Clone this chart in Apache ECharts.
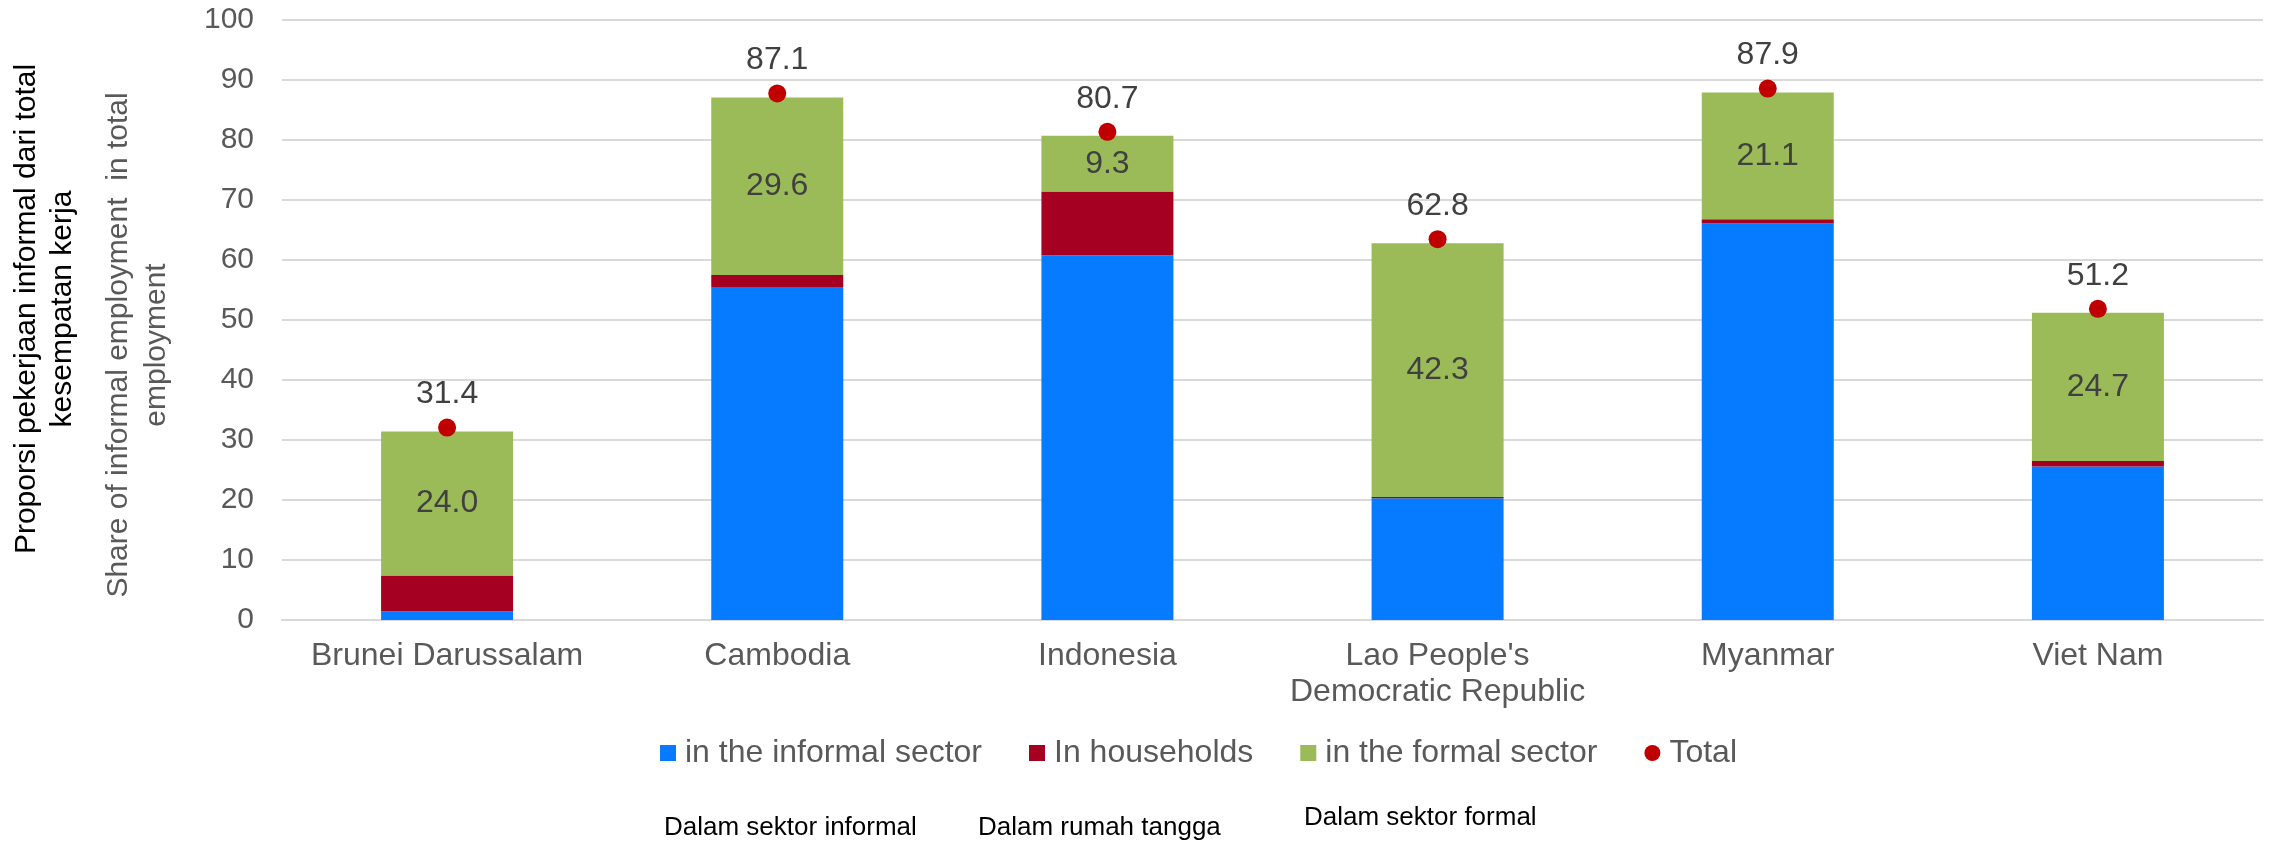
<!DOCTYPE html>
<html>
<head>
<meta charset="utf-8">
<script src="https://cdn.jsdelivr.net/npm/echarts@6/dist/echarts.min.js"></script>
<style>
html,body{margin:0;padding:0;background:#fff;}
#c{width:2280px;height:843px;}
</style>
</head>
<body>
<div id="c"></div>
<script>
var categories = ['Brunei Darussalam', 'Cambodia', 'Indonesia', "Lao People's\nDemocratic Republic", 'Myanmar', 'Viet Nam'];
var informalSector = [1.4, 55.5, 60.8, 20.3, 66.1, 25.6];
var households = [6.0, 2.0, 10.6, 0.2, 0.7, 0.9];
var formalSector = [24.0, 29.6, 9.3, 42.3, 21.1, 24.7];
var totals = [31.4, 87.1, 80.7, 62.8, 87.9, 51.2];
var seriesNames = ['in the informal sector', 'In households', 'in the formal sector', 'Total'];
var bottomNotes = ['Dalam sektor informal', 'Dalam rumah tangga', 'Dalam sektor formal'];
var titleId = 'Proporsi pekerjaan informal dari total\nkesempatan kerja';
var titleEn = 'Share of informal employment  in total\nemployment';

var FONT = '"Liberation Sans", Arial, sans-serif';
var chart = echarts.init(document.getElementById('c'), null, {renderer: 'canvas'});
chart.setOption({
  animation: false,
  backgroundColor: '#ffffff',
  textStyle: {fontFamily: FONT},
  grid: {left: 282, right: 17, top: 20, bottom: 223},
  legend: {
    left: 660, top: 737, padding: 0,
    itemWidth: 16, itemHeight: 16, itemGap: 47,
    textStyle: {fontSize: 32, color: '#595959', fontFamily: FONT, padding: [0, 0, 0, 4]},
    data: [
      {name: seriesNames[0], icon: 'rect'},
      {name: seriesNames[1], icon: 'rect'},
      {name: seriesNames[2], icon: 'rect'},
      {name: seriesNames[3], icon: 'circle'}
    ]
  },
  xAxis: {
    type: 'category', data: categories,
    axisLine: {lineStyle: {color: '#d9d9d9', width: 2}},
    axisTick: {show: false},
    axisLabel: {fontSize: 32, color: '#595959', margin: 18, lineHeight: 36, fontFamily: FONT, interval: 0}
  },
  yAxis: {
    type: 'value', min: 0, max: 100, interval: 10,
    axisLine: {show: false}, axisTick: {show: false},
    splitLine: {lineStyle: {color: '#d9d9d9', width: 2}},
    axisLabel: {fontSize: 30, color: '#595959', margin: 28, fontFamily: FONT}
  },
  series: [
    {name: seriesNames[0], type: 'bar', stack: 's', barWidth: 132, data: informalSector, itemStyle: {color: '#067bff'}},
    {name: seriesNames[1], type: 'bar', stack: 's', barWidth: 132, data: households, itemStyle: {color: '#a50021'}},
    {name: seriesNames[2], type: 'bar', stack: 's', barWidth: 132, data: formalSector, itemStyle: {color: '#9bbb59'},
      label: {show: true, position: 'inside', fontSize: 32, color: '#404040', fontFamily: FONT,
        formatter: function (p) { return p.value.toFixed(1); }}},
    {name: seriesNames[3], type: 'scatter', data: totals, symbol: 'circle', symbolSize: 18, symbolOffset: [0, -4],
      itemStyle: {color: '#c00000', opacity: 1}, z: 5,
      label: {show: true, position: 'top', distance: 8, fontSize: 32, color: '#404040', fontFamily: FONT,
        formatter: function (p) { return p.value.toFixed(1); }}}
  ],
  graphic: [
    {type: 'text', x: 45, y: 309, rotation: Math.PI / 2,
      style: {text: titleId, fontSize: 30, lineHeight: 36, fill: '#000000', align: 'center', verticalAlign: 'middle', fontFamily: FONT}},
    {type: 'text', x: 138, y: 345, rotation: Math.PI / 2,
      style: {text: titleEn, fontSize: 30, lineHeight: 38, fill: '#595959', align: 'center', verticalAlign: 'middle', fontFamily: FONT}},
    {type: 'text', x: 664, y: 828, style: {text: bottomNotes[0], fontSize: 26, fill: '#000000', verticalAlign: 'middle', fontFamily: FONT}},
    {type: 'text', x: 978, y: 828, style: {text: bottomNotes[1], fontSize: 26, fill: '#000000', verticalAlign: 'middle', fontFamily: FONT}},
    {type: 'text', x: 1304, y: 818, style: {text: bottomNotes[2], fontSize: 26, fill: '#000000', verticalAlign: 'middle', fontFamily: FONT}}
  ]
});
</script>
</body>
</html>
